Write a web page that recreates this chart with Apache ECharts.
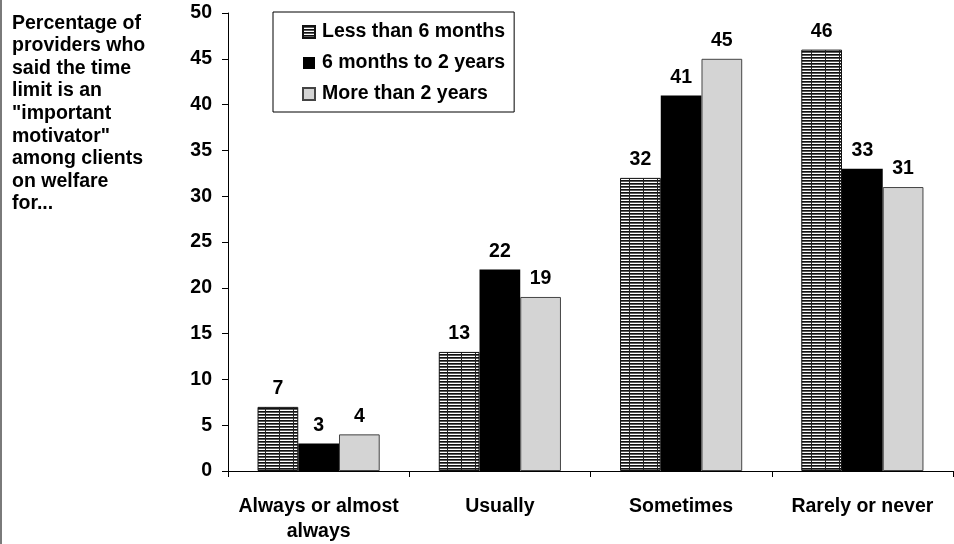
<!DOCTYPE html>
<html>
<head>
<meta charset="utf-8">
<script src="https://cdn.jsdelivr.net/npm/echarts@6/dist/echarts.min.js"></script>
<style>
  html, body { margin: 0; padding: 0; background: #fff; }
  #chart { width: 954px; height: 544px; }
</style>
</head>
<body>
<div id="chart"></div>
<script>
// Survey answers, grouped by how long clients have been on welfare
const categories = ['Always or almost\nalways', 'Usually', 'Sometimes', 'Rarely or never'];
const seriesNames = ['Less than 6 months', '6 months to 2 years', 'More than 2 years'];
const lessThan6Months = [7, 13, 32, 46];
const sixMonthsTo2Years = [3, 22, 41, 33];
const moreThan2Years = [4, 19, 45, 31];
const yTicks = { min: 0, max: 50, step: 5 };
const sideNote = [
  'Percentage of', 'providers who', 'said the time', 'limit is an',
  '"important', 'motivator"', 'among clients', 'on welfare', 'for...'
];

// Horizontal-stripe fill with faint column rules
function stripePattern() {
  const c = document.createElement('canvas');
  c.width = 14; c.height = 3;
  const g = c.getContext('2d');
  g.fillStyle = '#ffffff'; g.fillRect(0, 0, 14, 3);
  g.fillStyle = '#111111'; g.fillRect(0, 0, 14, 1);
  g.fillStyle = '#5a5a5a'; g.fillRect(0, 1, 14, 1);
  g.fillStyle = '#222'; g.fillRect(13, 0, 1, 3);
  return c;
}

const font = 'Liberation Sans, Arial, Helvetica, sans-serif';
const boldText = { fontFamily: font, fontWeight: 'bold', fontSize: 19.5, color: '#000' };

const chart = echarts.init(document.getElementById('chart'), null, { renderer: 'canvas' });

const label = {
  show: true, position: 'top', distance: 8,
  ...boldText
};

chart.setOption({
  animation: false,
  backgroundColor: '#fff',
  grid: { left: 228, right: 1, top: 13, bottom: 71, containLabel: false },
  legend: {
    orient: 'vertical',
    left: 273, top: 12,
    padding: [10, 9, 8, 29],
    itemGap: 11,
    itemWidth: 12, itemHeight: 12,
    icon: 'rect',
    borderColor: '#000', borderWidth: 1,
    textStyle: { ...boldText, lineHeight: 20, padding: [0, 0, 0, 2] },
    data: seriesNames
  },
  xAxis: {
    type: 'category',
    data: categories,
    axisLine: { lineStyle: { color: '#000', width: 1 } },
    axisTick: { show: true, length: 6, lineStyle: { color: '#000' } },
    axisLabel: { ...boldText, margin: 23, lineHeight: 25, interval: 0 }
  },
  yAxis: {
    type: 'value',
    min: yTicks.min, max: yTicks.max, interval: yTicks.step,
    axisLine: { show: true, lineStyle: { color: '#000', width: 1 } },
    axisTick: { show: true, length: 6, lineStyle: { color: '#000' } },
    axisLabel: { ...boldText, margin: 16 },
    splitLine: { show: false }
  },
  series: [
    {
      name: seriesNames[0], type: 'bar', data: lessThan6Months,
      barGap: '0%', barCategoryGap: '32.6%',
      itemStyle: { color: { image: stripePattern(), repeat: 'repeat' }, borderColor: '#111', borderWidth: 1 },
      label
    },
    {
      name: seriesNames[1], type: 'bar', data: sixMonthsTo2Years,
      barGap: '0%', barCategoryGap: '32.6%',
      itemStyle: { color: '#000' },
      label
    },
    {
      name: seriesNames[2], type: 'bar', data: moreThan2Years,
      barGap: '0%', barCategoryGap: '32.6%',
      itemStyle: { color: '#d4d4d4', borderColor: '#444', borderWidth: 1 },
      label
    }
  ],
  graphic: [
    {
      type: 'rect', left: 0, top: 0,
      shape: { x: 0, y: 0, width: 2, height: 544 },
      style: { fill: '#7a7a7a' }
    },
    {
      type: 'text', left: 12, top: 12,
      style: {
        text: sideNote.join('\n'),
        font: 'bold 19.5px ' + font,
        lineHeight: 22.6,
        fill: '#000'
      }
    }
  ]
});
</script>
</body>
</html>
